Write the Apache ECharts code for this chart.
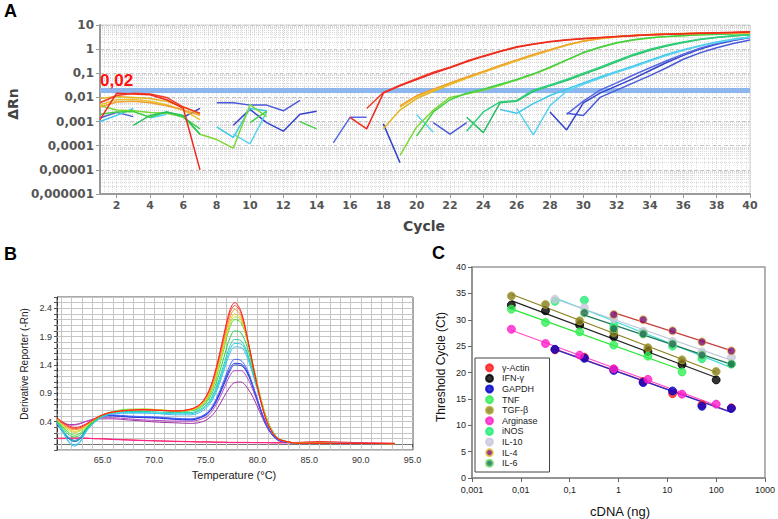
<!DOCTYPE html>
<html><head><meta charset="utf-8">
<script src="https://cdn.jsdelivr.net/npm/echarts@6/dist/echarts.min.js"></script>
<style>html,body{margin:0;padding:0;background:#fff}#c{width:778px;height:519px}</style>
</head><body><div id="c"></div>
<script>
const _ = null;
/* ---------- Panel A : amplification plot ---------- */
const cycles = [1,2,3,4,5,6,7,8,9,10,11,12,13,14,15,16,17,18,19,20,21,22,23,24,25,26,27,28,29,30,31,32,33,34,35,36,37,38,39,40];
const aYTickLabels = ['0,000001','0,00001','0,0001','0,001','0,01','0,1','1','10'];
const aEvenCycles = [2,4,6,8,10,12,14,16,18,20,22,24,26,28,30,32,34,36,38,40];
const threshold = 0.02;
const thresholdLabel = '0,02';
const ampBlue1 = [0.0014,0.0024,0.0016,_,_,_,_,0.006,0.006,0.0048,0.0048,0.0028,0.0075,_,_,_,_,_,_,_,0.0009,0.0003,0.0009,_,_,_,_,_,0.0022,0.0018,0.01,0.02,0.04,0.08,0.17,0.38,0.7,1.15,1.7,2.4];
const ampBlue2 = [_,_,_,_,_,0.0015,0.0035,_,0.0007,0.0032,0.0009,0.0004,0.002,0.0027,_,_,_,0.0008,0.00002,_,_,_,_,_,_,_,_,0.0025,0.00045,0.006,0.015,0.03,0.06,0.13,0.28,0.55,1.0,1.6,2.3,3.0];
const ampBlue3 = [_,_,_,_,_,_,_,_,_,_,_,_,_,_,0.00013,0.0015,0.0015,_,_,_,_,_,_,_,_,_,_,_,0.002,0.007,0.02,0.04,0.085,0.17,0.33,0.62,1.1,1.7,2.4,3.1];
const ampCyan1 = [0.001,0.0018,0.0035,_,_,_,_,0.0006,0.00022,0.0035,0.0028,_,_,_,_,_,_,_,_,_,_,_,_,_,0.0032,0.0022,0.0055,0.012,0.022,0.04,0.07,0.12,0.2,0.35,0.6,0.95,1.4,2.0,2.6,3.2];
const ampCyan2 = [_,_,_,0.0014,0.002,_,_,_,0.0003,0.00012,0.0025,_,_,_,_,_,_,_,_,0.0019,0.00036,_,_,_,_,0.0035,0.00028,0.0046,0.018,0.035,0.062,0.11,0.18,0.32,0.55,0.9,1.35,1.9,2.5,3.1];
const ampGreen1 = [0.0045,0.003,0.0028,0.0024,0.0022,0.0016,0.0003,0.00018,0.00008,0.005,0.0016,_,_,_,_,_,_,_,0.00004,0.0006,0.003,0.01,0.014,0.02,0.032,0.052,0.09,0.17,0.35,0.7,1.2,1.8,2.4,2.9,3.3,3.6,3.9,4.1,4.3,4.4];
const ampGreen2 = [0.002,0.0025,0.0026,0.0015,0.0025,0.0015,0.0005,_,_,0.0009,0.0027,_,0.001,0.0005,_,_,_,_,_,0.00025,0.0025,0.008,0.015,0.022,0.035,0.055,0.095,0.18,0.36,0.72,1.2,1.85,2.45,2.95,3.35,3.65,3.95,4.15,4.3,4.45];
const ampGreen3 = [_,_,0.0007,0.0018,0.0025,0.0018,0.0003,_,_,_,_,_,_,_,_,_,_,_,_,_,_,_,0.0015,0.00035,0.006,0.007,0.018,0.03,0.05,0.09,0.16,0.3,0.55,0.9,1.35,1.9,2.5,3.0,3.5,3.9];
const ampGreen4 = [_,_,_,_,_,_,_,_,_,_,_,_,_,_,_,_,_,_,_,_,_,_,0.0004,0.0025,0.0065,0.0075,0.02,0.033,0.055,0.1,0.18,0.33,0.6,1.0,1.45,2.0,2.6,3.1,3.55,3.95];
const ampYellow1 = [0.009,0.011,0.01,0.009,0.007,0.004,0.002,_,_,_,_,_,_,_,_,_,_,0.0005,0.003,0.009,0.018,0.034,0.062,0.11,0.19,0.33,0.55,0.9,1.5,2.2,2.8,3.3,3.7,4.0,4.2,4.4,4.5,4.6,4.7,4.8];
const ampYellow2 = [0.005,0.008,0.0085,0.007,0.005,0.003,0.0012,_,_,_,_,_,_,_,_,_,_,_,0.004,0.011,0.02,0.037,0.065,0.115,0.2,0.34,0.57,0.92,1.45,2.1,2.7,3.2,3.6,3.9,4.1,4.3,4.4,4.5,4.6,4.7];
const ampOrange = [0.004,0.0065,0.007,0.006,0.0045,0.003,0.0018,_,_,_,_,_,_,_,_,_,_,_,0.0045,0.012,0.022,0.04,0.07,0.12,0.21,0.36,0.6,0.95,1.5,2.15,2.75,3.25,3.65,3.95,4.15,4.35,4.5,4.6,4.7,4.8];
const ampRed1 = [0.0012,0.015,0.014,0.013,0.008,0.0035,0.00001,_,_,_,_,_,_,_,_,0.0015,0.0005,0.015,0.03,0.055,0.1,0.17,0.3,0.5,0.8,1.2,1.6,2.0,2.4,2.7,3.0,3.3,3.6,3.9,4.1,4.3,4.5,4.7,4.9,5.1];
const ampRed2 = [0.006,0.012,0.015,0.014,0.01,0.004,0.0022,_,_,_,_,_,_,_,_,_,0.0035,0.016,0.032,0.06,0.11,0.18,0.32,0.52,0.82,1.25,1.65,2.05,2.45,2.75,3.05,3.35,3.65,3.95,4.15,4.35,4.55,4.75,4.95,5.2];

/* ---------- Panel B : melt curves ---------- */
const meltTemp = [60.6,61.2,61.8,62.3,62.8,63.5,64.2,65,66,67.5,69,70.5,72,73.5,74.5,75.3,76,76.7,77.3,77.8,78.4,79,79.6,80.2,80.8,81.4,82,82.8,84,86,88,90,93.3];
const bTempTicks = [65,70,75,80,85,90,95];
const bGridTemps = [61,62,63,64,65,66,67,68,69,70,71,72,73,74,75,76,77,78,79,80,81,82,83,84,85,86,87,88,89,90,91,92,93,94];
const bYLabels = [0.4,0.9,1.4,1.9,2.4];
const meltBaseRed = [0.11,0.11,0.11,0.11,0.11,0.11,0.1,0.1,0.09,0.08,0.07,0.06,0.055,0.05,0.045,0.045,0.04,0.04,0.035,0.035,0.035,0.035,0.03,0.03,0.03,0.03,0.03,0.03,0.035,0.05,0.04,0.03,0.02];
const meltBasePink = [0.1,0.1,0.105,0.11,0.11,0.105,0.1,0.095,0.085,0.075,0.065,0.06,0.05,0.045,0.04,0.04,0.035,0.035,0.03,0.03,0.03,0.03,0.03,0.03,0.03,0.025,0.025,0.025,0.025,0.03,0.025,0.02,0.015];
const meltViolet = [0.42,0.38,0.35,0.35,0.37,0.41,0.44,0.45,0.45,0.43,0.41,0.39,0.38,0.37,0.39,0.46,0.6,0.82,1.0,1.09,1.1,1.0,0.82,0.58,0.34,0.17,0.07,0.04,0.02,0.02,0.015,0.015,0.01];
const meltPurple = [0.42,0.37,0.34,0.34,0.36,0.41,0.45,0.47,0.47,0.45,0.43,0.42,0.41,0.41,0.44,0.52,0.7,0.96,1.2,1.3,1.3,1.18,0.94,0.64,0.36,0.17,0.07,0.04,0.02,0.02,0.015,0.015,0.01];
const meltBlue3 = [0.37,0.22,0.11,0.07,0.11,0.29,0.43,0.5,0.5,0.48,0.47,0.46,0.44,0.43,0.47,0.56,0.75,1.03,1.28,1.4,1.39,1.26,0.99,0.66,0.37,0.18,0.08,0.04,0.02,0.02,0.015,0.015,0.01];
const meltBlue2 = [0.36,0.21,0.09,0.05,0.09,0.28,0.42,0.5,0.51,0.49,0.48,0.47,0.45,0.44,0.48,0.57,0.77,1.06,1.32,1.43,1.42,1.28,1.0,0.67,0.38,0.18,0.08,0.04,0.02,0.02,0.015,0.015,0.01];
const meltBlue = [0.36,0.22,0.1,0.06,0.1,0.28,0.42,0.5,0.52,0.5,0.49,0.48,0.46,0.45,0.49,0.59,0.8,1.1,1.38,1.5,1.48,1.32,1.02,0.68,0.38,0.18,0.08,0.04,0.02,0.02,0.015,0.015,0.01];
const meltSky = [0.38,0.2,0.02,-0.03,0.03,0.24,0.38,0.48,0.54,0.55,0.55,0.54,0.52,0.52,0.57,0.69,0.92,1.27,1.59,1.72,1.71,1.53,1.2,0.83,0.48,0.25,0.11,0.05,0.02,0.02,0.015,0.015,0.01];
const meltCyan = [0.39,0.22,0.04,-0.01,0.05,0.25,0.39,0.49,0.55,0.56,0.56,0.55,0.54,0.54,0.6,0.72,0.96,1.32,1.65,1.78,1.77,1.58,1.24,0.85,0.49,0.25,0.11,0.05,0.02,0.02,0.015,0.015,0.01];
const meltTeal = [0.4,0.25,0.1,0.06,0.1,0.27,0.4,0.5,0.56,0.58,0.58,0.57,0.56,0.56,0.62,0.75,1.0,1.38,1.72,1.85,1.83,1.62,1.26,0.86,0.49,0.25,0.11,0.05,0.02,0.02,0.015,0.015,0.01];
const meltGreen2 = [0.41,0.28,0.16,0.13,0.16,0.29,0.41,0.51,0.57,0.6,0.61,0.6,0.58,0.59,0.65,0.8,1.08,1.5,1.86,2.0,1.97,1.72,1.32,0.88,0.5,0.25,0.11,0.05,0.02,0.02,0.015,0.015,0.01];
const meltGreen = [0.42,0.3,0.2,0.16,0.19,0.31,0.42,0.52,0.58,0.62,0.62,0.61,0.59,0.6,0.67,0.84,1.17,1.65,2.05,2.2,2.15,1.84,1.38,0.91,0.51,0.25,0.11,0.05,0.02,0.02,0.015,0.015,0.01];
const meltLime = [0.43,0.32,0.24,0.21,0.23,0.33,0.43,0.52,0.57,0.61,0.62,0.61,0.59,0.6,0.68,0.86,1.2,1.7,2.1,2.25,2.2,1.86,1.38,0.9,0.5,0.24,0.11,0.05,0.02,0.02,0.015,0.015,0.01];
const meltYellow = [0.44,0.34,0.26,0.23,0.25,0.34,0.44,0.52,0.57,0.6,0.62,0.61,0.59,0.61,0.69,0.88,1.24,1.74,2.15,2.3,2.22,1.86,1.36,0.88,0.48,0.23,0.1,0.05,0.02,0.02,0.015,0.015,0.01];
const meltOrange = [0.45,0.35,0.28,0.26,0.27,0.35,0.44,0.52,0.57,0.6,0.61,0.6,0.59,0.61,0.7,0.9,1.28,1.8,2.22,2.38,2.27,1.88,1.36,0.87,0.47,0.23,0.1,0.05,0.02,0.02,0.015,0.015,0.01];
const meltRed2 = [0.46,0.37,0.3,0.28,0.29,0.36,0.44,0.52,0.57,0.6,0.61,0.6,0.59,0.62,0.71,0.93,1.32,1.86,2.3,2.45,2.32,1.9,1.36,0.86,0.46,0.22,0.1,0.05,0.02,0.02,0.015,0.015,0.01];
const meltRed = [0.47,0.39,0.32,0.3,0.31,0.37,0.45,0.52,0.57,0.6,0.61,0.6,0.59,0.62,0.72,0.95,1.35,1.9,2.35,2.5,2.35,1.9,1.35,0.85,0.45,0.22,0.1,0.05,0.02,0.02,0.015,0.015,0.01];

/* ---------- Panel C : standard curves ---------- */
const cTickLabels = ['0,001','0,01','0,1','1','10','100','1000'];
const cDnaDil5 = [0.0064,0.032,0.16,0.8,4,20,100];
const cDnaDil4 = [0.05,0.2,0.8,3.2,12.8,51.2,204.8];
const cDnaIL4 = [0.8,3.2,12.8,51.2,204.8];
const cDnaIL6 = [0.2,0.8,3.2,12.8,51.2,204.8];
const cDnaTNF = [0.0064,0.032,0.16,0.8,4,20];
const ctActin = [24.3,22.9,20.6,18.3,16.0,13.9,13.3];
const ctIFN = [32.8,31.7,29.0,26.8,24.0,21.5,18.6];
const ctGAPDH = [24.4,22.7,20.4,18.1,16.5,13.6,13.2];
const ctTNF = [32.0,29.5,27.7,25.2,23.1,20.1];
const ctTGF = [34.5,32.9,29.8,27.6,24.7,22.4,20.2];
const ctArginase = [28.2,25.5,23.3,20.7,18.7,15.9,14.0];
const ctINOS = [33.5,33.7,28.9,27.5,25.0,22.6,21.6];
const ctIL10 = [33.9,32.3,30.2,27.8,25.9,23.9,22.9];
const ctIL4 = [31.0,30.0,27.9,25.8,24.1];
const ctIL6 = [31.3,28.3,27.3,25.4,23.3,21.6];

/* ---------- build ---------- */
const ampCurves = [
  ['#4a5ad8', ampBlue1], ['#3444cc', ampBlue2], ['#5868e2', ampBlue3],
  ['#3cc8ea', ampCyan1], ['#5ad2f0', ampCyan2],
  ['#7cd834', ampGreen1], ['#44d044', ampGreen2], ['#28c060', ampGreen3], ['#30d080', ampGreen4],
  ['#e6b422', ampYellow1], ['#ebc32a', ampYellow2], ['#f0a030', ampOrange],
  ['#f04028', ampRed2], ['#ee2a1e', ampRed1]
];
const meltCurves = [
  ['#ff2a2a', meltBaseRed], ['#ff1e96', meltBasePink],
  ['#a032a0', meltViolet], ['#b446c8', meltPurple],
  ['#3246c8', meltBlue3], ['#2032e6', meltBlue2], ['#4664ff', meltBlue],
  ['#46bef0', meltSky], ['#28d2e6', meltCyan], ['#20d2a0', meltTeal],
  ['#28d250', meltGreen2], ['#50dc32', meltGreen], ['#b4e628', meltLime],
  ['#f0c828', meltYellow], ['#ff8c28', meltOrange], ['#ff4a28', meltRed2], ['#ff2020', meltRed]
];
const stdSeries = [
  {name:'γ-Actin', x:cDnaDil4, y:ctActin, color:'#ff1a1a', line:'#ff3030', border:'#ff1a1a'},
  {name:'IFN-γ', x:cDnaDil5, y:ctIFN, color:'#000000', line:'#222222', border:'#000000'},
  {name:'GAPDH', x:cDnaDil4, y:ctGAPDH, color:'#0000c8', line:'#2a2ad0', border:'#0000c8'},
  {name:'TNF', x:cDnaTNF, y:ctTNF, color:'#33ee55', line:'#22e830', border:'#33ee55'},
  {name:'TGF-β', x:cDnaDil5, y:ctTGF, color:'#857a1c', line:'#8a7f1e', border:'#b0a830'},
  {name:'Arginase', x:cDnaDil5, y:ctArginase, color:'#ff1ecb', line:'#ff4ac8', border:'#ff1ecb'},
  {name:'iNOS', x:cDnaDil4, y:ctINOS, color:'#22ee77', line:'#40e0d8', border:'#22ee77'},
  {name:'IL-10', x:cDnaDil4, y:ctIL10, color:'#c8c8dc', line:'#b8c4d8', border:'#c8c8dc'},
  {name:'IL-4', x:cDnaIL4, y:ctIL4, color:'#7a0a6e', line:'#c83c3c', border:'#e8c840'},
  {name:'IL-6', x:cDnaIL6, y:ctIL6, color:'#1a6a4e', line:'#207858', border:'#70dd70'}
];

const series = [];
ampCurves.forEach(([color, vals], k) => {
  const s = {
    type:'line', xAxisIndex:0, yAxisIndex:0, symbol:'none', silent:true, z:3,
    data: cycles.map((c,i) => [c, vals[i] === null ? '-' : vals[i]]),
    lineStyle:{color, width:1.5}, itemStyle:{color}
  };
  if (k === ampCurves.length - 1) {
    s.markLine = {
      silent:true, symbol:'none', z:2,
      lineStyle:{color:'#8db6ee', width:5, type:'solid'},
      label:{show:true, position:'insideStartTop', formatter:thresholdLabel, color:'#ff1010',
             fontSize:17, fontWeight:'bold', fontFamily:'Liberation Sans', distance:[0, 1]},
      data:[{yAxis:threshold}]
    };
  }
  series.push(s);
});
meltCurves.forEach(([color, vals], k) => {
  const s = {
    type:'line', xAxisIndex:1, yAxisIndex:1, symbol:'none', silent:true, smooth:0.35, z:3,
    data: meltTemp.map((t,i) => [t, vals[i]]),
    lineStyle:{color, width:1}, itemStyle:{color}
  };
  if (k === 0) {
    s.markLine = {
      silent:true, symbol:'none', z:1, label:{show:false},
      lineStyle:{color:'#c6c6c6', width:1, type:'solid'},
      data: bGridTemps.map(t => ({xAxis:t}))
    };
  }
  series.push(s);
});
stdSeries.forEach(sr => {
  // least-squares fit of Ct against log10(cDNA)
  const lx = sr.x.map(v => Math.log10(v));
  const n = lx.length;
  const mx = lx.reduce((a,b)=>a+b,0)/n, my = sr.y.reduce((a,b)=>a+b,0)/n;
  let sxy = 0, sxx = 0;
  lx.forEach((v,i) => { sxy += (v-mx)*(sr.y[i]-my); sxx += (v-mx)*(v-mx); });
  const slope = sxy/sxx, icpt = my - slope*mx;
  const x0 = sr.x[0], x1 = sr.x[n-1];
  series.push({
    type:'line', name:sr.name + ' fit', xAxisIndex:2, yAxisIndex:2, symbol:'none', silent:true, z:3,
    data:[[x0, icpt + slope*Math.log10(x0)], [x1, icpt + slope*Math.log10(x1)]],
    lineStyle:{color:sr.line, width:1.2}
  });
});
stdSeries.forEach(sr => {
  series.push({
    type:'scatter', name:sr.name, xAxisIndex:2, yAxisIndex:2, symbol:'circle', symbolSize:8, z:4,
    data: sr.x.map((v,i) => [v, sr.y[i]]),
    itemStyle:{color:sr.color, borderColor:sr.border, borderWidth:1}
  });
});

const fA = 'DejaVu Sans', fB = 'Liberation Sans';
const option = {
  animation:false,
  backgroundColor:'#ffffff',
  grid:[
    {left:100, top:25, width:650, height:169, show:true, borderColor:'#d0d0d0', borderWidth:1, backgroundColor:'transparent'},
    {left:57, top:297, width:356, height:153, show:true, borderColor:'#555', borderWidth:1},
    {left:472, top:267, width:295, height:211, show:true, borderColor:'#9a9a9a', borderWidth:1.5}
  ],
  xAxis:[
    {type:'value', gridIndex:0, min:1, max:40, interval:1,
     axisLine:{show:true, lineStyle:{color:'#9a9a9a', width:2}},
     axisTick:{show:true, length:4, customValues:aEvenCycles, lineStyle:{color:'#9a9a9a'}},
     axisLabel:{formatter:v => (v % 2 === 0 ? String(v) : ''), color:'#555', fontSize:11, fontWeight:'bold', fontFamily:fA, margin:6},
     splitLine:{show:true, lineStyle:{color:'#d6d6d6', type:'dotted'}},
     minorTick:{show:false, splitNumber:4},
     minorSplitLine:{show:true, lineStyle:{color:'#e2e2e2', type:'dotted'}}},
    {type:'value', gridIndex:1, min:60.6, max:95.05,
     axisLine:{show:true, lineStyle:{color:'#777', width:1}},
     axisTick:{show:true, length:3, customValues:bTempTicks, lineStyle:{color:'#555'}},
     axisLabel:{customValues:bTempTicks, showMaxLabel:true, formatter:v => v.toFixed(1), color:'#333', fontSize:9, fontFamily:fB, margin:5},
     splitLine:{show:false}},
    {type:'log', logBase:10, gridIndex:2, min:0.001, max:1000,
     axisLine:{show:true, lineStyle:{color:'#8a8a8a', width:1.5}},
     axisTick:{show:true, length:4, lineStyle:{color:'#666'}},
     axisLabel:{formatter:v => cTickLabels[Math.round(Math.log10(v)) + 3], color:'#222', fontSize:9, fontFamily:fB, margin:7},
     splitLine:{show:false}}
  ],
  yAxis:[
    {type:'log', logBase:10, gridIndex:0, min:0.000001, max:10, splitNumber:7,
     axisLine:{show:true, lineStyle:{color:'#9a9a9a', width:2}},
     axisTick:{show:true, length:4, lineStyle:{color:'#9a9a9a'}},
     axisLabel:{formatter:v => aYTickLabels[Math.round(Math.log10(v)) + 6], color:'#555', fontSize:12, fontWeight:'bold', fontFamily:fA, margin:6},
     splitLine:{show:true, lineStyle:{color:'#c4c4c4', type:'dashed'}},
     minorTick:{show:false, splitNumber:9},
     minorSplitLine:{show:true, lineStyle:{color:'#d8d8d8', type:'dotted'}}},
    {type:'value', gridIndex:1, min:-0.1, max:2.6, interval:0.1,
     axisLine:{show:true, lineStyle:{color:'#333', width:1, type:'dashed'}},
     axisTick:{show:true, length:3, lineStyle:{color:'#555'}},
     axisLabel:{formatter:v => (bYLabels.indexOf(Math.round(v*10)/10) >= 0 ? v.toFixed(1) : ''), color:'#333', fontSize:9, fontFamily:fB, margin:5},
     splitLine:{show:true, lineStyle:{color:'#c6c6c6', width:1}}},
    {type:'value', gridIndex:2, min:0, max:40, interval:5,
     axisLine:{show:true, lineStyle:{color:'#8a8a8a', width:1.5}},
     axisTick:{show:true, length:4, lineStyle:{color:'#666'}},
     axisLabel:{color:'#222', fontSize:9, fontFamily:fB, margin:6},
     splitLine:{show:false}}
  ],
  legend:{
    data: stdSeries.map(s => s.name), orient:'vertical', left:475, top:358,
    itemWidth:7, itemHeight:7, itemGap:1, icon:'circle',
    padding:[5,12,4,10], borderColor:'#444', borderWidth:1, backgroundColor:'#fff',
    textStyle:{fontSize:9, lineHeight:9.6, color:'#222', fontFamily:fB, padding:[0,0,0,4]},
    selectedMode:false
  },
  graphic:[
    {type:'text', left:4, top:2, style:{text:'A', fontSize:18, fontWeight:'bold', fontFamily:fB, fill:'#000'}},
    {type:'text', left:4, top:245, style:{text:'B', fontSize:18, fontWeight:'bold', fontFamily:fB, fill:'#000'}},
    {type:'text', left:432, top:244, style:{text:'C', fontSize:18, fontWeight:'bold', fontFamily:fB, fill:'#000'}},
    {type:'text', x:13, y:104, rotation:Math.PI/2, style:{text:'ΔRn', fontSize:14, fontWeight:'bold', fontFamily:fA, fill:'#444', align:'center', verticalAlign:'middle'}},
    {type:'text', x:424, y:226, style:{text:'Cycle', fontSize:14, fontWeight:'bold', fontFamily:fA, fill:'#444', align:'center', verticalAlign:'middle'}},
    {type:'text', x:24, y:364, rotation:Math.PI/2, style:{text:'Derivative Reporter (-Rn)', fontSize:10, fontFamily:fB, fill:'#222', align:'center', verticalAlign:'middle'}},
    {type:'text', x:234, y:475, style:{text:'Temperature (°C)', fontSize:11, fontFamily:fB, fill:'#222', align:'center', verticalAlign:'middle'}},
    {type:'text', x:441, y:367, rotation:Math.PI/2, style:{text:'Threshold Cycle (Ct)', fontSize:12, fontFamily:fB, fill:'#111', align:'center', verticalAlign:'middle'}},
    {type:'text', x:620, y:511, style:{text:'cDNA (ng)', fontSize:13, fontFamily:fB, fill:'#111', align:'center', verticalAlign:'middle'}}
  ],
  series
};
const chart = echarts.init(document.getElementById('c'), null, {renderer:'svg', width:778, height:519});
chart.setOption(option);
</script>
</body></html>
